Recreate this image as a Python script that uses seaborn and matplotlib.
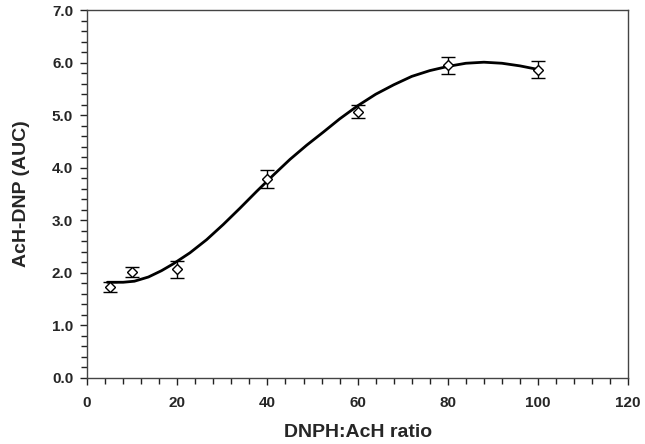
import matplotlib
matplotlib.use("Agg")
import matplotlib.pyplot as plt
import seaborn as sns
import pandas as pd
from matplotlib.ticker import MultipleLocator, FormatStrFormatter

# measured data
ratio = [5, 10, 20, 40, 60, 80, 100]
auc = [1.73, 2.02, 2.07, 3.78, 5.07, 5.95, 5.87]
auc_err = [0.095, 0.095, 0.16, 0.17, 0.12, 0.16, 0.165]

# fitted curve
curve_x = [4.5, 8.0, 10.5, 13.6, 16.5, 19.1, 22.8, 26.5, 30.2, 33.9, 37.6, 41.3,
           45.0, 48.7, 52.4, 56.0, 60.0, 64.0, 68.0, 72.0, 76.0, 80.0, 84.0, 88.0,
           92.0, 96.0, 100.1]
curve_y = [1.82, 1.82, 1.84, 1.92, 2.04, 2.17, 2.38, 2.63, 2.92, 3.23, 3.55, 3.86,
           4.16, 4.43, 4.68, 4.93, 5.18, 5.40, 5.58, 5.74, 5.85, 5.93, 5.99, 6.01,
           5.99, 5.94, 5.87]

sns.set_theme(style="white")
plt.rcParams['font.family'] = ['Liberation Sans', 'DejaVu Sans']

fig = plt.figure(figsize=(6.45, 4.44), dpi=100)
ax = fig.add_axes([0.135, 0.149, 0.839, 0.828])

curve = pd.DataFrame({"x": curve_x, "y": curve_y})
sns.lineplot(data=curve, x="x", y="y", ax=ax, color="black", linewidth=2.0,
             sort=False, zorder=2)

ax.errorbar(ratio, auc, yerr=auc_err, fmt="D", markersize=5.5, markerfacecolor="white",
            markeredgecolor="black", markeredgewidth=1.0, ecolor="black",
            elinewidth=1.0, capsize=5, capthick=1.0, zorder=3)

ax.set_xlim(0, 120)
ax.set_ylim(0, 7)
ax.xaxis.set_major_locator(MultipleLocator(20))
ax.xaxis.set_minor_locator(MultipleLocator(4))
ax.yaxis.set_major_locator(MultipleLocator(1))
ax.yaxis.set_minor_locator(MultipleLocator(0.2))
ax.yaxis.set_major_formatter(FormatStrFormatter("%.1f"))

for s in ax.spines.values():
    s.set_color("#444444")
    s.set_linewidth(1.0)
    s.set_visible(True)

ax.tick_params(which="both", direction="out", color="#222222", bottom=True, left=True,
               top=False, right=False)
ax.tick_params(which="major", length=5, width=1.0, labelsize=11)
ax.tick_params(axis="x", which="major", pad=8)
ax.tick_params(axis="y", which="major", pad=5)
ax.tick_params(which="minor", length=4, width=1.0)
for lab in ax.get_xticklabels() + ax.get_yticklabels():
    lab.set_fontweight("bold")

ax.set_xlabel("DNPH:AcH ratio", fontsize=14, fontweight="bold", labelpad=10)
ax.set_ylabel("AcH-DNP (AUC)", fontsize=14, fontweight="bold", labelpad=16)

fig.savefig("out.png", dpi=100)
